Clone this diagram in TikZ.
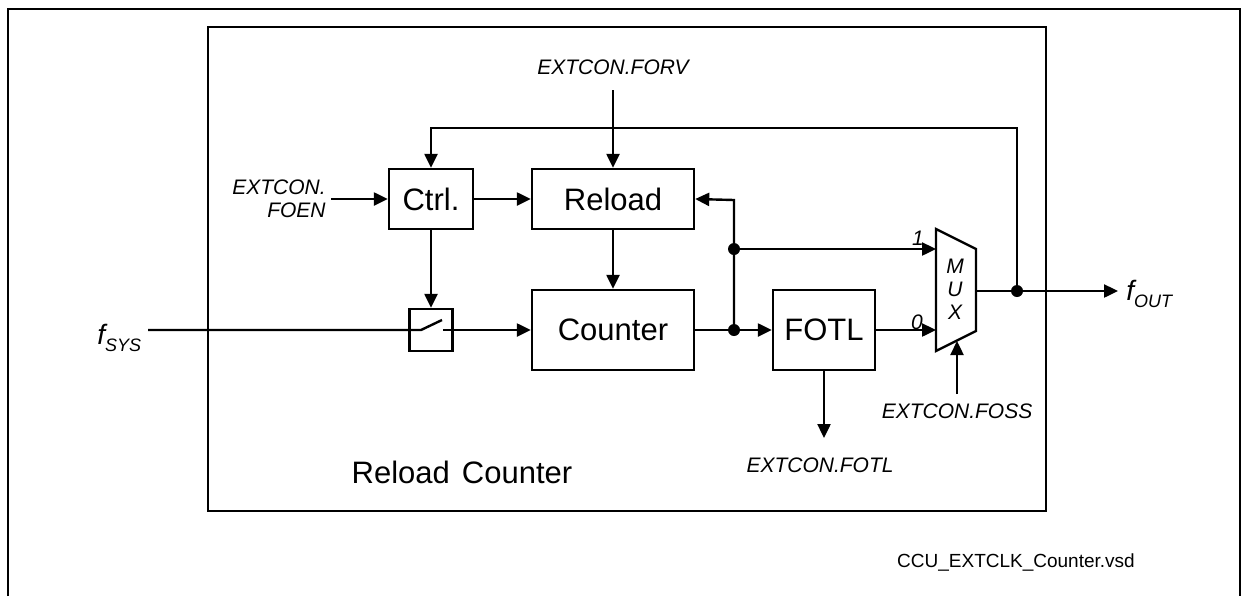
\documentclass[tikz,border=0pt]{standalone}
\usepackage{fontspec}
\setmainfont{Liberation Sans}
\usetikzlibrary{arrows.meta}
\newcommand{\fsubl}[1]{{\fontsize{14}{16}\selectfont\itshape f}\raisebox{-3.5pt}{\fontsize{9}{10}\selectfont\itshape #1}}
\begin{document}
\begin{tikzpicture}[x=0.5pt,y=-0.5pt,
  blk/.style={draw,line width=1.2pt,inner sep=0pt,font=\fontsize{15.5}{18}\selectfont},
  lbl/.style={inner sep=0pt,font=\fontsize{10.5}{11.5}\selectfont\itshape},
  wire/.style={line width=1.2pt},
  arr/.style={line width=1.2pt,-{Triangle[length=7pt,width=6.5pt]}},
  dot/.style={circle,fill,inner sep=0pt,minimum size=6pt}]
\useasboundingbox (0,0) rectangle (1242,596);
% outer frame (open at bottom)
\draw[line width=1.4pt] (8,596) -- (8,9) -- (1240,9) -- (1240,596);
% inner box
\draw[line width=1.4pt] (208,27) rectangle (1046,511);
% blocks
\node[blk,minimum width=42pt,minimum height=30pt] (ctrl) at (431,199) {Ctrl.};
\node[blk,minimum width=81pt,minimum height=30pt] (reload) at (613,199) {Reload};
\node[blk,minimum width=81pt,minimum height=40pt] (counter) at (613,330) {Counter};
\node[blk,minimum width=51pt,minimum height=40pt] (fotl) at (824,330) {FOTL};
\node[draw,line width=1.2pt,minimum width=21.5pt,minimum height=21pt,inner sep=0pt] (sw) at (431,330) {};
% mux
\draw[line width=1.2pt] (936,229) -- (976,249) -- (976,331) -- (936,351) -- cycle;
\node[lbl,align=center] (muxl) at (955,289) {M\\U\\X};
\coordinate (mux1) at (936,249);
\coordinate (mux0) at (936,330);
\coordinate (muxout) at (976,291);
\coordinate (muxsel) at (957,341);
\node[lbl] (l1) at (918,238) {1};
\node[lbl] (l0) at (917,322) {0};
% labels
\node[lbl,align=right,anchor=east] (foen) at (326,199) {EXTCON.\\FOEN};
\coordinate (foenS) at (331,199);
\node[lbl] (forv) at (613,67) {EXTCON.FORV};
\coordinate (forvS) at (613,90);
\node[lbl] (fossl) at (957,411) {EXTCON.FOSS};
\coordinate (fossS) at (957,394);
\node[lbl] (fotll) at (820,465) {EXTCON.FOTL};
\coordinate (fotlE) at (824,438);
\node[inner sep=0pt,anchor=base west] (fsys) at (97,344) {\fsubl{SYS}};
\coordinate (fsysS) at (148,330);
\node[inner sep=0pt,anchor=base west] (fout) at (1126,300) {\fsubl{OUT}};
\coordinate (foutE) at (1118,291);
\node[inner sep=0pt,font=\fontsize{15.5}{18}\selectfont] (title) at (462,472) {Reload\hspace{6pt}Counter};
\node[inner sep=0pt,font=\fontsize{9.5}{11}\selectfont] (file) at (1016,562) {CCU\_EXTCLK\_Counter.vsd};
% junctions
\node[dot] (j1) at (734,330) {};
\node[dot] (j2) at (734,249) {};
\node[dot] (j3) at (1017,291) {};
\coordinate (top) at (1017,128);
% connectors
\draw[arr] (foenS) -- (ctrl.west);
\draw[arr] (ctrl.east) -- (reload.west);
\draw[arr] (forvS) -- (reload.north);
\draw[arr] (reload.south) -- (counter.north);
\draw[arr] (ctrl.south) -- (sw.north);
\draw[wire] (fsysS) -- (421,330) -- (442,320);
\draw[arr] (443,330) -- (counter.west);
\draw[wire] (counter.east) -- (j1.center);
\draw[arr] (j1.center) -- (fotl.west);
\draw[arr] (j1.center) -- (734,200) -- (reload.east);
\draw[arr] (j2.center) -- (mux1);
\draw[arr] (fotl.east) -- (mux0);
\draw[arr] (fotl.south) -- (fotlE);
\draw[arr] (fossS) -- (muxsel);
\draw[arr] (muxout) -- (foutE);
\draw[arr] (j3.center) -- (top) -- (ctrl.north |- top) -- (ctrl.north);
\end{tikzpicture}
\end{document}
